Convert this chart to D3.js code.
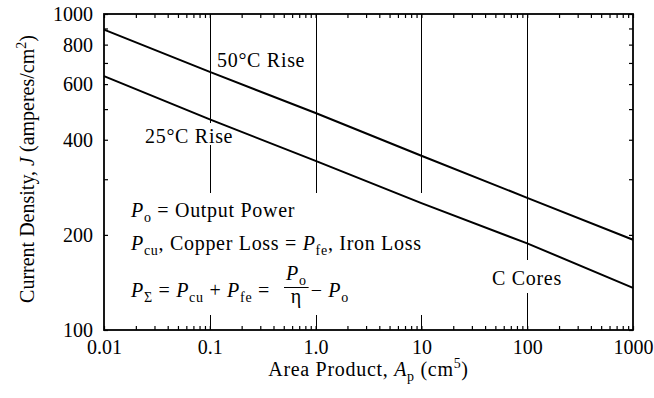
<!DOCTYPE html>
<html>
<head>
<meta charset="utf-8">
<script src="https://cdn.jsdelivr.net/npm/d3@7"></script>
<style>
    body { margin: 0; background: #fff; }
    svg text { font-family: "Liberation Serif", "Times New Roman", serif; fill: #000; }
</style>
</head>
<body>
<svg id="chart" width="654" height="398"></svg>
<script>
'use strict';

// ##################################################
// #  Data                                          #
// ##################################################

let areaProduct = [0.01, 0.1, 1, 10, 100, 1000];
let rise50 = [892, 656, 486, 356, 262, 193];
let rise25 = [636, 464, 343, 252, 188, 136];

let xTickValues = [0.01, 0.1, 1, 10, 100, 1000];
let xTickLabels = ['0.01', '0.1', '1.0', '10', '100', '1000'];
let yTickValues = [100, 200, 400, 600, 800, 1000];
let yTickLabels = ['100', '200', '400', '600', '800', '1000'];
let guideLines = [0.1, 1, 10, 100];

// ##################################################
// #  Chart                                         #
// ##################################################

let fontSize = 20;
let wordSpacing = 0.7;
let plotLeft = 104, plotTop = 14, plotRight = 633, plotBottom = 330;

let svg = d3.select('#chart')
    .attr('font-family', '"Liberation Serif", serif');
let x = d3.scaleLog([0.01, 1000], [plotLeft, plotRight]);
let y = d3.scaleLog([100, 1000], [plotBottom, plotTop]);

// writes text parts with italics, subscripts and superscripts as tspans
function rich(textSel, parts) {
    let shift = 0;
    for (const p of parts) {
        let target = p.sub ? 5 : p.sup ? -8 : 0;
        let ts = textSel.append('tspan')
            .attr('dy', target - shift)
            .text(p.t);
        shift = target;
        if (p.i) ts.attr('font-style', 'italic');
        if (p.sub || p.sup) ts.attr('font-size', fontSize * 0.7);
    }
    return textSel;
}

// guide lines
svg.append('g').selectAll('line')
    .data(guideLines)
    .join('line')
    .attr('x1', d => Math.round(x(d)) + 0.5)
    .attr('x2', d => Math.round(x(d)) + 0.5)
    .attr('y1', plotTop)
    .attr('y2', plotBottom)
    .attr('stroke', '#000')
    .attr('stroke-width', 1);

// white patches behind annotations cut the guide lines
let patches = svg.append('g').attr('fill', '#fff');
patches.append('rect').attr('x', 140).attr('y', 123).attr('width', 92).attr('height', 22);
patches.append('rect').attr('x', 122).attr('y', 193).attr('width', 300).attr('height', 122);
patches.append('rect').attr('x', 488).attr('y', 260).attr('width', 78).attr('height', 33);

// minor ticks, all four sides, pointing inward
let minorX = x.ticks();
let minorY = y.ticks();
let tickAxes = [
    [d3.axisBottom(x).tickValues(minorX), `translate(0,${plotBottom})`],
    [d3.axisTop(x).tickValues(minorX), `translate(0,${plotTop})`],
    [d3.axisLeft(y).tickValues(minorY), `translate(${plotLeft},0)`],
    [d3.axisRight(y).tickValues(minorY), `translate(${plotRight},0)`]
];
for (const [axis, tr] of tickAxes) {
    let g = svg.append('g')
        .attr('transform', tr)
        .call(axis.tickSizeInner(-4).tickSizeOuter(0).tickFormat(''));
    g.select('.domain').remove();
    g.selectAll('line').attr('stroke', '#000').attr('stroke-width', 1.2);
}

// tick labels
let xLabels = svg.append('g')
    .attr('transform', `translate(0,${plotBottom})`)
    .call(d3.axisBottom(x).tickValues(xTickValues).tickSize(0).tickPadding(10)
        .tickFormat((d, i) => xTickLabels[i]));
let yLabels = svg.append('g')
    .attr('transform', `translate(${plotLeft},0)`)
    .call(d3.axisLeft(y).tickValues(yTickValues).tickSize(0).tickPadding(11)
        .tickFormat((d, i) => yTickLabels[i]));
for (const g of [xLabels, yLabels]) {
    g.select('.domain').remove();
    g.attr('font-family', null).attr('font-size', null);
    g.selectAll('text').attr('font-size', fontSize);
}

// frame
svg.append('rect')
    .attr('x', plotLeft).attr('y', plotTop)
    .attr('width', plotRight - plotLeft).attr('height', plotBottom - plotTop)
    .attr('fill', 'none').attr('stroke', '#000').attr('stroke-width', 1.8);

// rise lines
let line = d3.line()
    .x((d, i) => x(areaProduct[i]))
    .y(d => y(d));
svg.append('g').selectAll('path')
    .data([rise50, rise25])
    .join('path')
    .attr('d', line)
    .attr('fill', 'none')
    .attr('stroke', '#000')
    .attr('stroke-width', 2);

// labels in plot
let note = svg.append('g')
    .attr('font-size', fontSize)
    .attr('letter-spacing', wordSpacing);
note.append('text').attr('x', 217).attr('y', 67).text('50°C Rise');
note.append('text').attr('x', 145).attr('y', 143).text('25°C Rise');
note.append('text').attr('x', 492).attr('y', 285).text('C Cores');

rich(note.append('text').attr('x', 131).attr('y', 217), [
    {t: 'P', i: true}, {t: 'o', sub: true}, {t: ' = Output Power'}
]);
rich(note.append('text').attr('x', 131).attr('y', 250), [
    {t: 'P', i: true}, {t: 'cu', sub: true}, {t: ', Copper Loss = '},
    {t: 'P', i: true}, {t: 'fe', sub: true}, {t: ', Iron Loss'}
]);
let eq = rich(note.append('text').attr('x', 131).attr('y', 297), [
    {t: 'P', i: true}, {t: 'Σ', sub: true}, {t: ' = '},
    {t: 'P', i: true}, {t: 'cu', sub: true}, {t: ' + '},
    {t: 'P', i: true}, {t: 'fe', sub: true}, {t: ' ='}
]);
let eqBox = eq.node().getBBox();
let fracLeft = eqBox.x + eqBox.width + 14;
let num = rich(note.append('text').attr('y', 280), [
    {t: 'P', i: true}, {t: 'o', sub: true}
]);
let den = note.append('text').attr('y', 303).text('η');
let numW = num.node().getComputedTextLength();
let denW = den.node().getComputedTextLength();
let barW = Math.max(numW, denW) + 4;
num.attr('x', fracLeft + (barW - numW) / 2);
den.attr('x', fracLeft + (barW - denW) / 2);
note.append('line')
    .attr('x1', fracLeft).attr('x2', fracLeft + barW)
    .attr('y1', 287.5).attr('y2', 287.5)
    .attr('stroke', '#000').attr('stroke-width', 1);
rich(note.append('text').attr('x', fracLeft + barW + 2).attr('y', 297), [
    {t: '− '}, {t: 'P', i: true}, {t: 'o', sub: true}
]);

// axis titles
rich(svg.append('text')
    .attr('font-size', fontSize)
    .attr('letter-spacing', wordSpacing)
    .attr('text-anchor', 'middle')
    .attr('x', (plotLeft + plotRight) / 2).attr('y', 376), [
    {t: 'Area Product, '}, {t: 'A', i: true}, {t: 'p', sub: true},
    {t: ' (cm'}, {t: '5', sup: true}, {t: ')'}
]);
rich(svg.append('text')
    .attr('font-size', fontSize)
    .attr('text-anchor', 'middle')
    .attr('transform', `translate(34,${(plotTop + plotBottom) / 2 - 3}) rotate(-90)`), [
    {t: 'Current Density, '}, {t: 'J', i: true},
    {t: ' (amperes/cm'}, {t: '2', sup: true}, {t: ')'}
]);
</script>
</body>
</html>
